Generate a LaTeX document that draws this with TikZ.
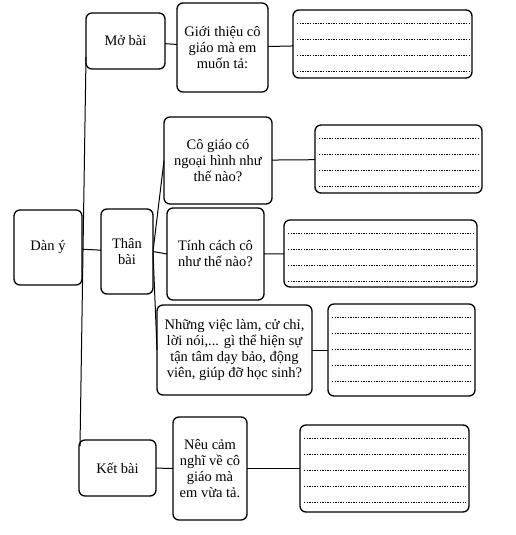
\documentclass[tikz,border=0pt]{standalone}
\usepackage{fontspec}
\setmainfont{Liberation Serif}
\usetikzlibrary{positioning}
\tikzset{
  khung/.style={draw=black, line width=1.3pt, rounded corners=6pt, align=center, font=\fontsize{14.5pt}{16pt}\selectfont, inner sep=3pt, outer sep=0pt},
  dapan/.style={khung, path picture={
    \foreach \k in {0,...,5}{
      \draw[line width=0.7pt, dash pattern=on 1.4pt off 1.2pt]
        ([xshift=4pt,yshift=-13pt-\k*16pt]path picture bounding box.north west) --
        ([xshift=-3pt,yshift=-13pt-\k*16pt]path picture bounding box.north east);
    }}},
  noi/.style={line width=1pt}
}
\begin{document}
\begin{tikzpicture}[x=1pt, y=1pt]
\useasboundingbox (0,0) rectangle (516,-535);
% cot trai
\node[khung, minimum width=68pt, minimum height=75pt] (dan) at (48,-247.5) {Dàn ý};
\node[khung, minimum width=79pt, minimum height=56pt] (mo) at (125.5,-41) {Mở bài};
\node[khung, minimum width=52pt, minimum height=85pt, right=19pt of dan, yshift=-4pt] (than) {Thân\\bài};
\node[khung, minimum width=77pt, minimum height=56pt] (ket) at (117.5,-468) {Kết bài};
% cau hoi
\node[khung, minimum width=91pt, minimum height=89pt, right=12pt of mo, yshift=-6.5pt] (gioi) {Giới thiệu cô\\giáo mà em\\muốn tả:};
\node[khung, minimum width=108pt, minimum height=87pt, right=11pt of than, yshift=91pt] (ngoai) {Cô giáo có\\ngoại hình như\\thế nào?};
\node[khung, minimum width=97pt, minimum height=92pt, right=14pt of than, yshift=-2.5pt] (tinh) {Tính cách cô\\như thế nào?};
\node[khung, minimum width=155pt, minimum height=90pt, right=4pt of than, yshift=-98.5pt] (viec) {Những việc làm, cử chỉ,\\lời nói,... gì thể hiện sự\\tận tâm dạy bảo, động\\viên, giúp đỡ học sinh?};
\node[khung, minimum width=74pt, minimum height=103pt, right=17pt of ket, yshift=-0.5pt] (neu) {Nêu cảm\\nghĩ về cô\\giáo mà\\em vừa tả.};
% o tra loi
\node[dapan, minimum width=179pt, minimum height=68pt, right=25pt of gioi, yshift=3.5pt] (dap1) {};
\node[dapan, minimum width=167pt, minimum height=68pt, right=43pt of ngoai, yshift=1.5pt] (dap2) {};
\node[dapan, minimum width=193pt, minimum height=67pt, right=20pt of tinh, yshift=0.5pt] (dap3) {};
\node[dapan, minimum width=147pt, minimum height=92pt, right=16pt of viec] (dap4) {};
\node[dapan, minimum width=169pt, minimum height=87pt, right=53pt of neu] (dap5) {};
% duong noi
\draw[noi] ([yshift=12pt]mo.south west) -- ([xshift=1pt,yshift=-6pt]ket.north west);
\draw[noi] (dan) -- (than);
\draw[noi] (mo) -- (gioi); \draw[noi] (gioi) -- (dap1);
\draw[noi] (than.east) -- (ngoai.west); \draw[noi] (than.east) -- (tinh.west); \draw[noi] (than.east) -- (viec.west);
\draw[noi] (ngoai) -- (dap2); \draw[noi] (tinh) -- (dap3); \draw[noi] (viec) -- (dap4);
\draw[noi] (ket) -- (neu); \draw[noi] (neu) -- (dap5);
\end{tikzpicture}
\end{document}
